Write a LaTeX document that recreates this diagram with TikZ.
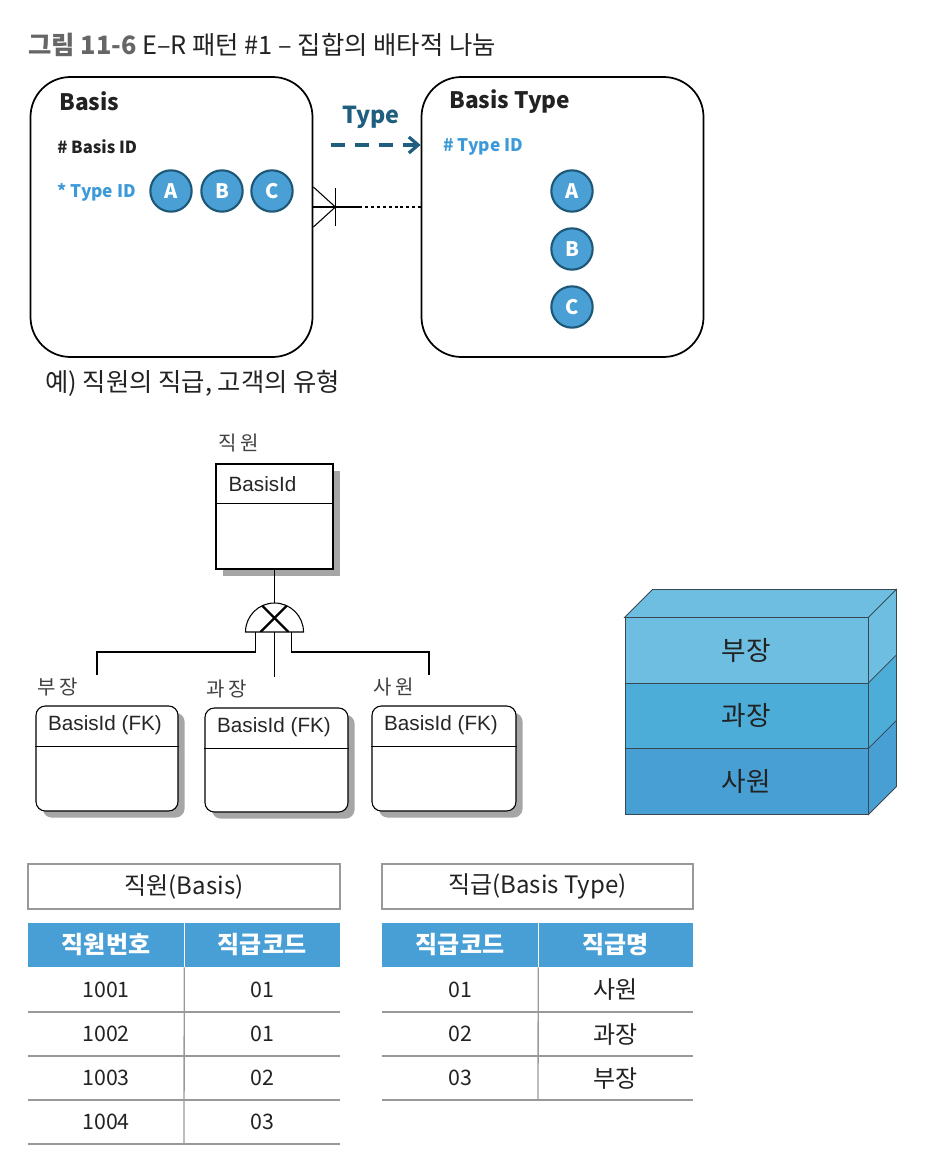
\documentclass[tikz,border=0pt]{standalone}
\usepackage{fontspec}
\setmainfont{Noto Sans CJK KR}
\newfontfamily\arialf{Liberation Sans}
\usetikzlibrary{calc,arrows.meta,shadows}
\newcommand\myfs[1]{\fontsize{#1}{#1}\selectfont}
\definecolor{titlegray}{HTML}{666666}
\definecolor{txtdark}{HTML}{222222}
\definecolor{tblue}{HTML}{3D9AD8}
\definecolor{circfill}{HTML}{4A9FD5}
\definecolor{circdraw}{HTML}{1E5878}
\definecolor{typedark}{HTML}{1F5E7F}
\definecolor{hdrblue}{HTML}{489FD5}
\definecolor{stackA}{HTML}{6DBEE0}
\definecolor{stackB}{HTML}{4CADD9}
\definecolor{stackC}{HTML}{479FD4}
\definecolor{edgec}{HTML}{3A4650}
\definecolor{tline}{HTML}{999999}
\begin{document}
\begin{tikzpicture}[x=0.75pt,y=-0.75pt,
  bigbox/.style={draw, line width=1.3pt, rounded corners=30pt, minimum width=211.5pt, minimum height=210pt, inner sep=0pt},
  circ/.style={circle, fill=circfill, draw=circdraw, line width=1.6pt, minimum size=31pt, inner sep=0pt, text=white, font=\myfs{15}\bfseries},
  ent/.style={draw, line width=0.8pt, fill=white, inner sep=0pt, drop shadow={shadow xshift=5pt, shadow yshift=-5pt, fill=black!35, opacity=1}},
  kl/.style={font=\myfs{15}, text=black!75},
  fk/.style={anchor=west, font=\arialf\myfs{15.5}, text=black!85},
  layer/.style={draw=edgec, line width=0.6pt, minimum width=182.25pt, minimum height=49pt, inner sep=0pt, font=\myfs{20}, text=txtdark},
  ttl/.style={draw=tline, line width=1pt, minimum width=234pt, minimum height=33.75pt, inner sep=0pt, font=\myfs{18}, text=txtdark},
  hdr/.style={fill=hdrblue, minimum width=117pt, minimum height=33pt, inner sep=0pt, font=\myfs{18}\bfseries, text=white},
  cell/.style={font=\myfs{16}, text=txtdark},
  kcell/.style={font=\myfs{18}, text=txtdark},
  tl/.style={draw=tline, line width=1pt}
]
\useasboundingbox (0,0) rectangle (950,1176);

% title
\node[anchor=west, inner sep=0pt, font=\myfs{19}, text=txtdark] (title) at (28,45)
  {{\bfseries\color{titlegray}그림 11-6} E–R 패턴 \#1 – 집합의 배타적 나눔};

% top boxes
\node[bigbox] (basis) at (171.5,217) {};
\node[bigbox] (btype) at (562.5,217) {};
\node[anchor=west, inner sep=0pt, font=\myfs{17}\bfseries, text=txtdark] (basisT) at (59,101) {Basis};
\node[anchor=west, inner sep=0pt, font=\myfs{12.5}\bfseries, text=txtdark] (bid) at (57,147) {\# Basis ID};
\node[anchor=west, inner sep=0pt, font=\myfs{13}\bfseries, text=tblue] (tid) at (57,192) {* Type ID};
\node[circ] (ca) at (171,191) {A};
\node[circ] (cb) at (222,191) {B};
\node[circ] (cc) at (272,191) {C};

\node[anchor=west, inner sep=0pt, font=\myfs{17}\bfseries, text=txtdark] (btT) at (449,102) {Basis Type};
\node[anchor=west, inner sep=0pt, font=\myfs{13}\bfseries, text=tblue] (ttid) at (443,147) {\# Type ID};
\node[circ] (ra) at (572,191) {A};
\node[circ] (rb) at (572,249) {B};
\node[circ] (rc) at (572,307) {C};

% crow's foot connector
\path (basis.east) ++(0,-10) coordinate (cfL);
\path (btype.west) ++(0,-10) coordinate (cfR);
\path (cfL) ++(22,0) coordinate (cfTip);
\path (cfL) ++(46,0) coordinate (cfMid);
\draw[line width=0.8pt] (cfL) -- (cfMid);
\draw[line width=0.8pt, dash pattern=on 2.2pt off 2.2pt] (cfMid) -- (cfR);
\draw[line width=0.8pt] ($(cfL)+(0,-20)$) -- (cfTip) -- ($(cfL)+(0,20)$);
\draw[line width=0.8pt] ($(cfTip)+(0,-19)$) -- ($(cfTip)+(0,19)$);

% Type arrow
\node[inner sep=0pt, font=\myfs{17.5}\bfseries, text=typedark] (typeL) at (371,117) {Type};
\path (btype.west) ++(0,-72) coordinate (taEnd);
\path (taEnd) ++(-90,0) coordinate (taStart);
\draw[typedark, line width=2.4pt, dash pattern=on 11pt off 7pt,
  -{Straight Barb[length=7pt,width=12pt,line width=2.4pt]}] (taStart) -- (taEnd);

% caption
\node[anchor=west, inner sep=0pt, font=\myfs{19}, text=txtdark] (ex) at (45,383) {예) 직원의 직급, 고객의 유형};

% middle ER diagram
\node[kl] (lemp) at (239,443) {직\,원};
\node[ent, minimum width=87.75pt, minimum height=78.75pt] (emp) at (274.5,516.5) {};
\draw[line width=0.8pt] ($(emp.north west)+(0,40)$) -- ($(emp.north east)+(0,40)$);
\node[fk] (empid) at (224,484) {BasisId};

\coordinate (domeC) at (274.5,632);
\draw[line width=0.8pt] (emp.south) -- ($(domeC)+(0,-29)$);
\begin{scope}
  \clip ($(domeC)+(-29,0)$) arc[start angle=180,end angle=360,radius=29] -- cycle;
  \draw[line width=1.8pt] ($(domeC)+(-16,-30)$) -- ($(domeC)+(14,0)$);
  \draw[line width=1.8pt] ($(domeC)+(16,-30)$) -- ($(domeC)+(-14,0)$);
\end{scope}
\draw[line width=0.8pt] ($(domeC)+(-29,0)$) arc[start angle=180,end angle=360,radius=29] -- cycle;

\coordinate (l1) at (97,675);
\coordinate (l2) at (274.5,677);
\coordinate (l3) at (429,675);
\draw[line width=0.8pt] ($(domeC)+(-19,0)$) -- ++(0,20) -| (l1);
\draw[line width=0.8pt] (domeC) -- (l2);
\draw[line width=0.8pt] ($(domeC)+(17,0)$) -- ++(0,20) -| (l3);

\node[kl] (lc1) at (58,687) {부\,장};
\node[kl] (lc2) at (227,689) {과\,장};
\node[kl] (lc3) at (394,687) {사\,원};

\node[ent, rounded corners=7pt, minimum width=106.5pt, minimum height=78.75pt] (c1) at (107,758.5) {};
\node[ent, rounded corners=7pt, minimum width=107.25pt, minimum height=78pt] (c2) at (276.5,760) {};
\node[ent, rounded corners=7pt, minimum width=108pt, minimum height=78.75pt] (c3) at (444,758.5) {};
\foreach \c in {c1,c2,c3}{
  \draw[line width=0.8pt] ($(\c.north west)+(0,41)$) -- ($(\c.north east)+(0,41)$);
}
\node[fk] (c1t) at ($(c1.north west)+(8,20)$) {BasisId (FK)};
\node[fk] (c2t) at ($(c2.north west)+(8,20)$) {BasisId (FK)};
\node[fk] (c3t) at ($(c3.north west)+(8,20)$) {BasisId (FK)};

% 3D stack
\node[layer, fill=stackA] (s1) at (746.5,650.5) {부장};
\node[layer, fill=stackB] (s2) at (746.5,716) {과장};
\node[layer, fill=stackC] (s3) at (746.5,781.5) {사원};
\draw[draw=edgec, line width=0.6pt, fill=stackA] (s1.north west) -- ++(28,-28) -- ($(s1.north east)+(28,-28)$) -- (s1.north east) -- cycle;
\draw[draw=edgec, line width=0.6pt, fill=stackA] (s1.north east) -- ++(28,-28) -- ($(s1.south east)+(28,-28)$) -- (s1.south east) -- cycle;
\draw[draw=edgec, line width=0.6pt, fill=stackB] (s2.north east) -- ++(28,-28) -- ($(s2.south east)+(28,-28)$) -- (s2.south east) -- cycle;
\draw[draw=edgec, line width=0.6pt, fill=stackC] (s3.north east) -- ++(28,-28) -- ($(s3.south east)+(28,-28)$) -- (s3.south east) -- cycle;

% left table
\node[ttl] (t1t) at (184,886.5) {직원(Basis)};
\node[hdr] (t1h1) at (106,945) {직원번호};
\node[hdr] (t1h2) at (262,945) {직급코드};
\draw[white, line width=0.8pt] (t1h1.north east) -- (t1h1.south east);
\node[cell] (a11) at (106,990) {1001};
\node[cell] (a12) at (262,990) {01};
\node[cell] (a21) at (106,1034) {1002};
\node[cell] (a22) at (262,1034) {01};
\node[cell] (a31) at (106,1078) {1003};
\node[cell] (a32) at (262,1078) {02};
\node[cell] (a41) at (106,1122) {1004};
\node[cell] (a42) at (262,1122) {03};
\foreach \yy in {1012,1056,1100,1144}{ \draw[tl] (28,\yy) -- (340,\yy); }
\draw[tl] (t1h1.south east) -- (184,1144);

% right table
\node[ttl, minimum width=233.25pt] (t2t) at (537.5,886.5) {직급(Basis Type)};
\node[hdr] (t2h1) at (460,945) {직급코드};
\node[hdr, minimum width=116.25pt] (t2h2) at (615.5,945) {직급명};
\draw[white, line width=0.8pt] (t2h1.north east) -- (t2h1.south east);
\node[cell] (b11) at (460,990) {01};
\node[kcell] (b12) at (615.5,990) {사원};
\node[cell] (b21) at (460,1034) {02};
\node[kcell] (b22) at (615.5,1034) {과장};
\node[cell] (b31) at (460,1078) {03};
\node[kcell] (b32) at (615.5,1078) {부장};
\foreach \yy in {1012,1056,1100}{ \draw[tl] (382,\yy) -- (693,\yy); }
\draw[tl] (t2h1.south east) -- (538,1100);
\end{tikzpicture}
\end{document}
